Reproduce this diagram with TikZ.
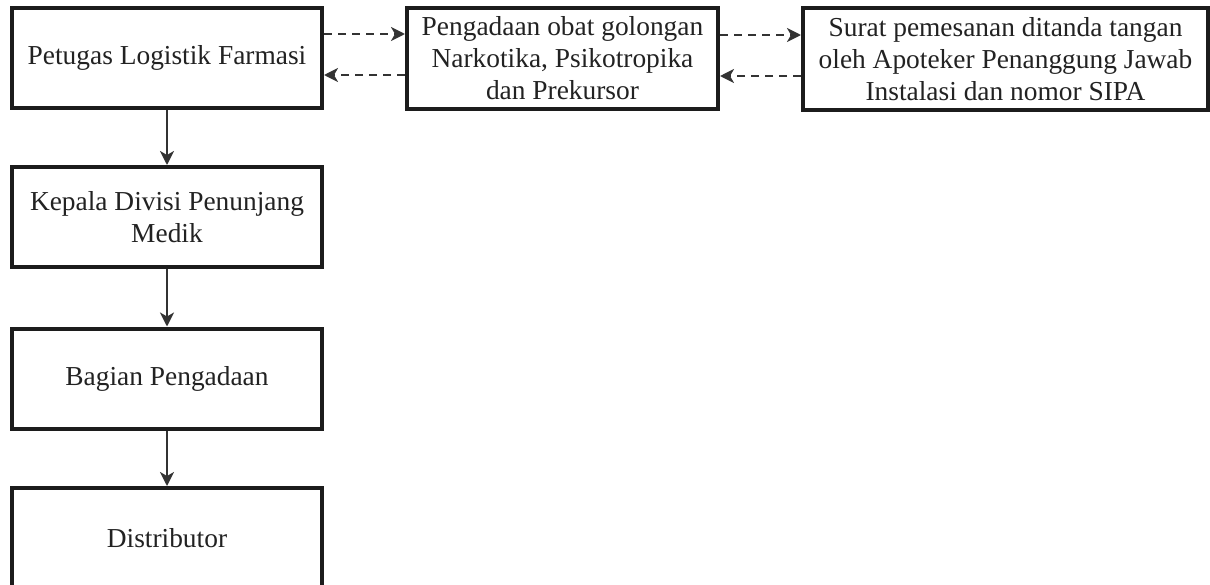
\documentclass[tikz,border=0pt]{standalone}
\usepackage{fontspec}
\setmainfont{Liberation Serif}
\usetikzlibrary{arrows.meta,positioning,calc}
\definecolor{flowink}{HTML}{1C1C1C}
\definecolor{flowtext}{HTML}{222222}
\tikzset{
  bx/.style={draw=flowink, line width=4pt, fill=white, align=center, text=flowtext, font=\fontsize{27.4}{32}\selectfont, minimum width=310pt, minimum height=100pt, inner sep=2pt},
  arr/.style={-{Stealth[length=14pt, width=14pt, inset=4pt]}, line width=2.2pt, color=flowink!90},
  darr/.style={arr, line width=2.6pt, dash pattern=on 8pt off 6pt},
}

\begin{document}
\begin{tikzpicture}[x=1pt, y=-1pt]
    \clip (0,0) rectangle (1210,584);
    \foreach \n/\y/\ti in {
      1/58/{Petugas Logistik Farmasi},
      2/217/{Kepala Divisi Penunjang\\Medik},
      3/378.5/{Bagian Pengadaan},
      4/538/{Distributor}}
    {
      \node[bx] (k\n) at (167,\y) {\ti};
    }
    \foreach \a/\b in {1/2,2/3,3/4} \draw[arr] (k\a.south) -- (k\b.north);
    \node[bx, minimum width=311pt, minimum height=101pt] (obat) at (562.5,58.5) {Pengadaan obat golongan\\Narkotika, Psikotropika\\dan Prekursor};
    \node[bx, minimum width=405pt, minimum height=102pt] (surat) at (1005.5,59) {Surat pemesanan ditanda tangan\\oleh Apoteker Penanggung Jawab\\Instalasi dan nomor SIPA};
    \draw[darr] ([yshift=24pt]k1.east) -- ([yshift=24pt]k1.east -| obat.west);
    \draw[darr] ([yshift=-17pt]k1.east -| obat.west) -- ([yshift=-17pt]k1.east);
    \draw[darr] ([yshift=23.5pt]obat.east) -- ([yshift=23.5pt]obat.east -| surat.west);
    \draw[darr] ([yshift=-17.5pt]obat.east -| surat.west) -- ([yshift=-17.5pt]obat.east);
  \end{tikzpicture}
\end{document}
